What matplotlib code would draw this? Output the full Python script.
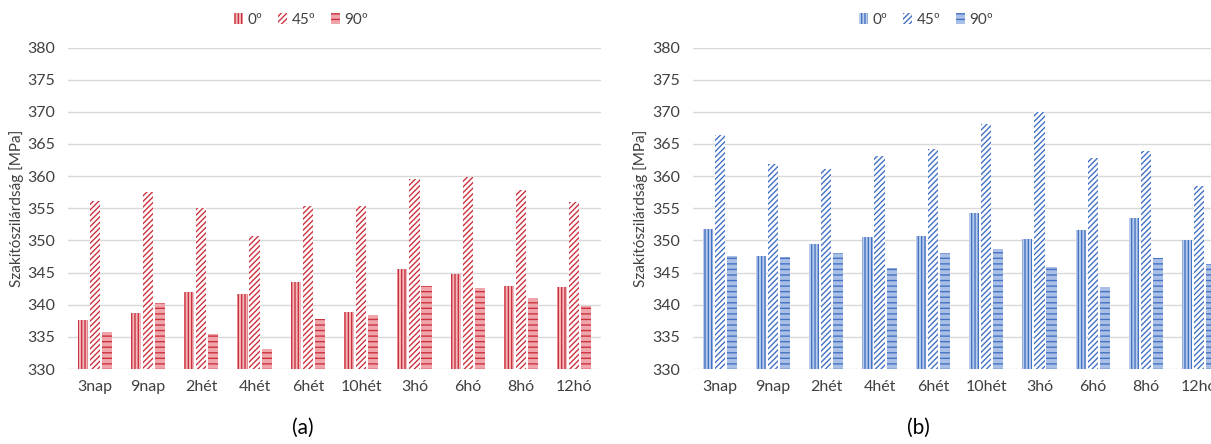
import numpy as np
import matplotlib
matplotlib.use("Agg")
import matplotlib.pyplot as plt

plt.rcParams['font.family'] = ['Lato', 'DejaVu Sans']
plt.rcParams['hatch.linewidth'] = 1.0

categories = ["3nap", "9nap", "2hét", "4hét", "6hét", "10hét", "3hó", "6hó", "8hó", "12hó"]
series_names = ["0º", "45º", "90º"]

a_0 = [337.6, 338.7, 342.0, 341.6, 343.5, 338.8, 345.5, 344.8, 342.9, 342.7]
a_45 = [356.1, 357.5, 355.1, 350.7, 355.3, 355.4, 359.6, 359.9, 357.8, 356.0]
a_90 = [335.8, 340.3, 335.5, 333.1, 337.8, 338.4, 342.9, 342.6, 341.1, 339.8]

b_0 = [351.8, 347.5, 349.4, 350.5, 350.7, 354.2, 350.2, 351.6, 353.5, 350.1]
b_45 = [366.4, 361.9, 361.1, 363.2, 364.2, 368.1, 369.9, 362.8, 363.9, 358.5]
b_90 = [347.6, 347.4, 348.0, 345.7, 348.0, 348.6, 345.9, 342.8, 347.3, 346.4]

yticks = [330, 335, 340, 345, 350, 355, 360, 365, 370, 375, 380]
ylabel = "Szakítószilárdság [MPa]"

W, H = 1211, 444
fig = plt.figure(figsize=(W / 100, H / 100), dpi=100)

TEXT = '#404040'
GRID = '#D9D9D9'


def panel(left_px, series, dark, light, pale):
    ax = fig.add_axes([left_px / W, 1 - 369 / H, 533 / W, (369 - 47.5) / H])
    x = np.arange(len(categories))
    styles = [
        dict(facecolor=light, hatch='|||||'),
        dict(facecolor='white', hatch='//////'),
        dict(facecolor=pale, hatch='---'),
    ]
    base = 330
    for i, (vals, st) in enumerate(zip(series, styles)):
        v = np.array(vals)
        ax.bar(x + (i - 1) * 0.226, v - base, bottom=base, width=0.19,
               facecolor=st['facecolor'], edgecolor=dark, hatch=st['hatch'],
               linewidth=0, zorder=3, label=series_names[i])
    ax.set_ylim(330, 380)
    ax.set_xlim(-0.5, len(categories) - 0.5)
    ax.set_yticks(yticks)
    ax.set_xticks(x)
    ax.set_xticklabels(categories)
    ax.tick_params(length=0, labelsize=11.5, colors=TEXT, pad=8)
    ax.tick_params(axis='y', pad=9)
    ax.grid(axis='y', color=GRID, linewidth=1, zorder=0)
    for s in ax.spines.values():
        s.set_visible(False)
    return ax


ax1 = panel(68, [a_0, a_45, a_90], '#CC3340', '#F2B9BC', '#EFA5AA')
ax2 = panel(693, [b_0, b_45, b_90], '#4472C4', '#BCCDEB', '#A9BFE6')

fig.text(17 / W, 1 - 208 / H, ylabel, rotation=90, ha='center', va='center',
         fontsize=11, color=TEXT)
fig.text(641 / W, 1 - 208 / H, ylabel, rotation=90, ha='center', va='center',
         fontsize=11, color=TEXT)

for ax, cx in [(ax1, 301), (ax2, 926)]:
    h, l = ax.get_legend_handles_labels()
    fig.legend(h, l, loc='center', bbox_to_anchor=(cx / W, 1 - 20 / H), ncol=3,
               frameon=False, fontsize=11, handlelength=0.6, handleheight=0.7,
               handletextpad=0.3, columnspacing=1.0, labelcolor=TEXT)

fig.text(303 / W, 1 - 428 / H, "(a)", ha='center', va='center', fontsize=15, color='black')
fig.text(918 / W, 1 - 428 / H, "(b)", ha='center', va='center', fontsize=15, color='black')

fig.savefig("out.png", dpi=100, facecolor='white')
